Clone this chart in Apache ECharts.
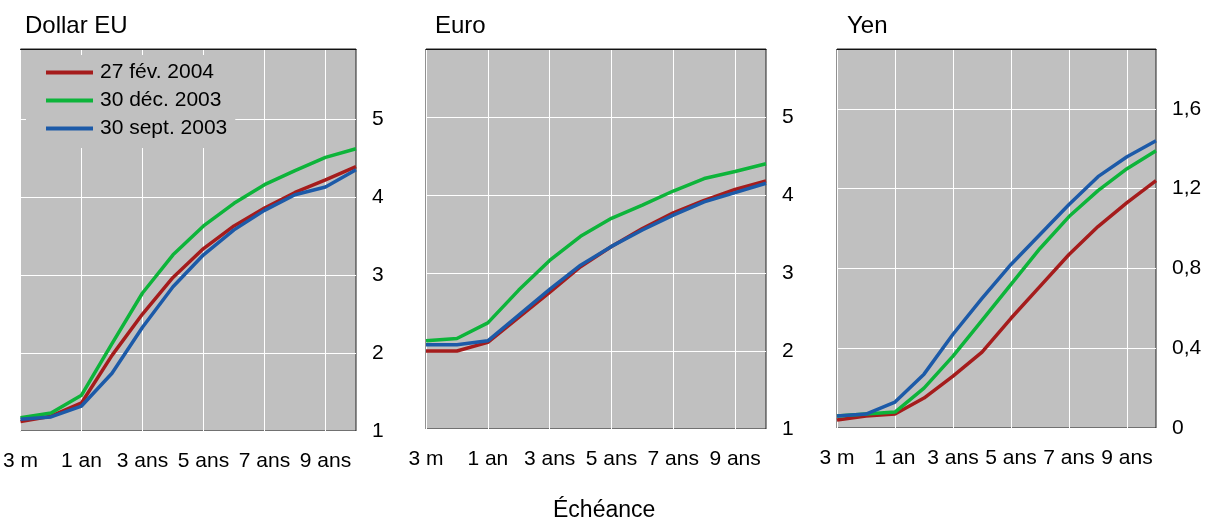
<!DOCTYPE html>
<html>
<head>
<meta charset="utf-8">
<script src="https://cdn.jsdelivr.net/npm/echarts@6/dist/echarts.min.js"></script>
<style>html,body{margin:0;padding:0;background:#fff}#c{width:1205px;height:520px}</style>
</head>
<body>
<div id="c"></div>
<script>
const categories = ['3 m','6 m','1 an','2 ans','3 ans','4 ans','5 ans','6 ans','7 ans','8 ans','9 ans','10 ans'];
const seriesNames = ['27 fév. 2004','30 déc. 2003','30 sept. 2003'];
const panelTitles = ['Dollar EU','Euro','Yen'];
const xAxisName = 'Échéance';

const usd_feb04 = [1.12,1.19,1.36,1.97,2.50,2.97,3.34,3.63,3.86,4.06,4.22,4.39];
const usd_dec03 = [1.17,1.23,1.46,2.12,2.77,3.26,3.63,3.92,4.16,4.34,4.51,4.62];
const usd_sep03 = [1.15,1.18,1.32,1.74,2.33,2.85,3.26,3.58,3.83,4.03,4.13,4.35];

const eur_feb04 = [2.00,2.00,2.11,2.43,2.75,3.08,3.34,3.57,3.77,3.93,4.07,4.18];
const eur_dec03 = [2.13,2.16,2.36,2.78,3.16,3.47,3.70,3.87,4.05,4.21,4.30,4.40];
const eur_sep03 = [2.08,2.08,2.13,2.46,2.79,3.10,3.34,3.55,3.74,3.91,4.03,4.15];

const jpy_feb04 = [0.04,0.06,0.07,0.15,0.26,0.38,0.55,0.71,0.87,1.01,1.13,1.24];
const jpy_dec03 = [0.06,0.07,0.08,0.20,0.36,0.54,0.72,0.90,1.06,1.19,1.30,1.39];
const jpy_sep03 = [0.06,0.07,0.13,0.27,0.47,0.65,0.82,0.97,1.12,1.26,1.36,1.44];

const colors = ['#a51c1c','#0db43a','#1c5aa8'];
const FONT = 'Liberation Sans, Arial, sans-serif';

const panels = [
  {data:[usd_feb04,usd_dec03,usd_sep03], grid:{left:16,top:49,width:340,height:382}, y:{min:1,max:5.9,interval:1}},
  {data:[eur_feb04,eur_dec03,eur_sep03], grid:{left:426,top:49,width:340,height:380}, y:{min:1,max:5.87,interval:1}},
  {data:[jpy_feb04,jpy_dec03,jpy_sep03], grid:{left:837,top:49,width:319,height:379}, y:{min:0,max:1.9,interval:0.4}}
];

const grids=[], xAxes=[], yAxes=[], series=[];
panels.forEach((p,i)=>{
  grids.push(Object.assign({show:true, backgroundColor:'#c0c0c0', borderColor:'#222', borderWidth:1}, p.grid));
  xAxes.push({type:'category', gridIndex:i, data:categories, boundaryGap:false,
    axisLine:{show:false}, axisTick:{show:false},
    axisLabel:{interval:1, margin:20, fontSize:21, fontFamily:FONT, color:'#000'},
    splitLine:{show:true, interval:1, lineStyle:{color:'#ffffff', width:1}}});
  yAxes.push({type:'value', gridIndex:i, position:'right', min:p.y.min, max:p.y.max, interval:p.y.interval,
    axisLine:{show:false}, axisTick:{show:false},
    axisLabel:{margin:16, fontSize:21, fontFamily:FONT, color:'#000', showMaxLabel:false,
      formatter:v=>String(+v.toFixed(1)).replace('.',',')},
    splitLine:{show:true, lineStyle:{color:'#ffffff', width:1}}});
  p.data.forEach((d,k)=>{
    series.push({type:'line', name:seriesNames[k], xAxisIndex:i, yAxisIndex:i, data:d,
      symbol:'none', color:colors[k], lineStyle:{width:3.5, color:colors[k]}, z:2+k, animation:false});
  });
});
// top frame line drawn over the top gridline
panels.forEach((p,i)=>{
  xAxes.push({type:'category', gridIndex:i, data:categories, boundaryGap:false, position:'top', z:1,
    axisLine:{show:true, lineStyle:{color:'#111', width:1}}, axisTick:{show:false},
    axisLabel:{show:false}, splitLine:{show:false}});
});

const chart = echarts.init(document.getElementById('c'));
chart.setOption({
  animation:false,
  title: panelTitles.map((t,i)=>({text:t, left:[25,435,847][i], top:14, padding:0,
    textStyle:{fontSize:24, fontWeight:'normal', fontFamily:FONT, color:'#000'}})).concat([
    {text:xAxisName, left:553, top:499, padding:0, textStyle:{fontSize:23, fontWeight:'normal', fontFamily:FONT, color:'#000'}}]),
  legend:{orient:'vertical', left:26, top:55, padding:[7,8,9,20], itemGap:7,
    backgroundColor:'#c0c0c0', icon:'rect', itemWidth:47, itemHeight:4,
    data:seriesNames, selectedMode:false,
    textStyle:{fontSize:21, fontFamily:FONT, color:'#000', lineHeight:21, padding:[0,0,0,2]}},
  grid:grids, xAxis:xAxes, yAxis:yAxes, series:series
});
</script>
</body>
</html>
